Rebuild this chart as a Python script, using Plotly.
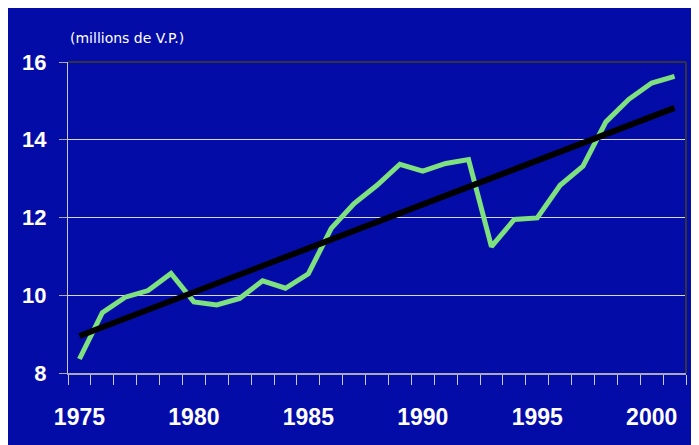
"""Parc automobile : évolution et tendance linéaire."""

import plotly.graph_objects as go

years = list(range(1975, 2002))
fleet = [
    8.36, 9.55, 9.95, 10.12, 10.56, 9.83, 9.75, 9.92, 10.37, 10.18,
    10.55, 11.72, 12.36, 12.83, 13.37, 13.19, 13.39, 13.49, 11.25, 11.95,
    11.99, 12.83, 13.32, 14.46, 15.04, 15.46, 15.63,
]
trend_years = [1975, 2001]
trend_values = [8.95, 14.82]

label_years = [1975, 1980, 1985, 1990, 1995, 2000]
y_ticks = [8, 10, 12, 14, 16]

BLUE = "#040CA8"
GREEN = "#7EE07E"
FONT = "Liberation Sans, Arial"

fig = go.Figure()
fig.add_trace(
    go.Scatter(
        x=years,
        y=fleet,
        mode="lines",
        line=dict(color=GREEN, width=5),
        showlegend=False,
    )
)
fig.add_trace(
    go.Scatter(
        x=trend_years,
        y=trend_values,
        mode="lines",
        line=dict(color="black", width=6),
        showlegend=False,
    )
)

# dark frame on top and right of the plot area
fig.add_shape(type="line", xref="paper", yref="paper", x0=0, x1=1, y0=1, y1=1,
              line=dict(color="#333344", width=2))
fig.add_shape(type="line", xref="paper", yref="paper", x0=1, x1=1, y0=0, y1=1,
              line=dict(color="#333344", width=2))

fig.add_annotation(
    text="(millions de V.P.)",
    xref="paper", yref="paper", x=0.0, y=1.077,
    xanchor="left", yanchor="middle", showarrow=False,
    font=dict(family="DejaVu Sans", size=14, color="white"),
)

fig.update_xaxes(
    range=[1974.5, 2001.5],
    tickmode="array",
    tickvals=label_years,
    ticks="",
    ticklabelstandoff=22,
    tickfont=dict(family=FONT, size=23, color="white", weight="bold"),
    showgrid=False,
    zeroline=False,
    showline=True,
    linecolor="#A8A8B8",
    linewidth=2,
    automargin=False,
    minor=dict(tickmode="linear", tick0=1974.5, dtick=1, ticks="outside",
               ticklen=10, tickcolor="#C8C8D0", tickwidth=1, showgrid=False),
)
fig.update_yaxes(
    range=[8, 16],
    tickmode="array",
    tickvals=y_ticks,
    ticks="outside",
    ticklen=8,
    tickcolor="#A8A8B8",
    ticklabelstandoff=8,
    tickfont=dict(family=FONT, size=22, color="white", weight="bold"),
    showgrid=True,
    gridcolor="#D8D8E0",
    gridwidth=1,
    zeroline=False,
    showline=True,
    linecolor="#C8C8D0",
    linewidth=1,
    automargin=False,
)
fig.update_layout(
    width=691,
    height=437,
    margin=dict(l=60, r=13, t=54, b=72),
    paper_bgcolor=BLUE,
    plot_bgcolor=BLUE,
)

fig.write_html("out.html")
